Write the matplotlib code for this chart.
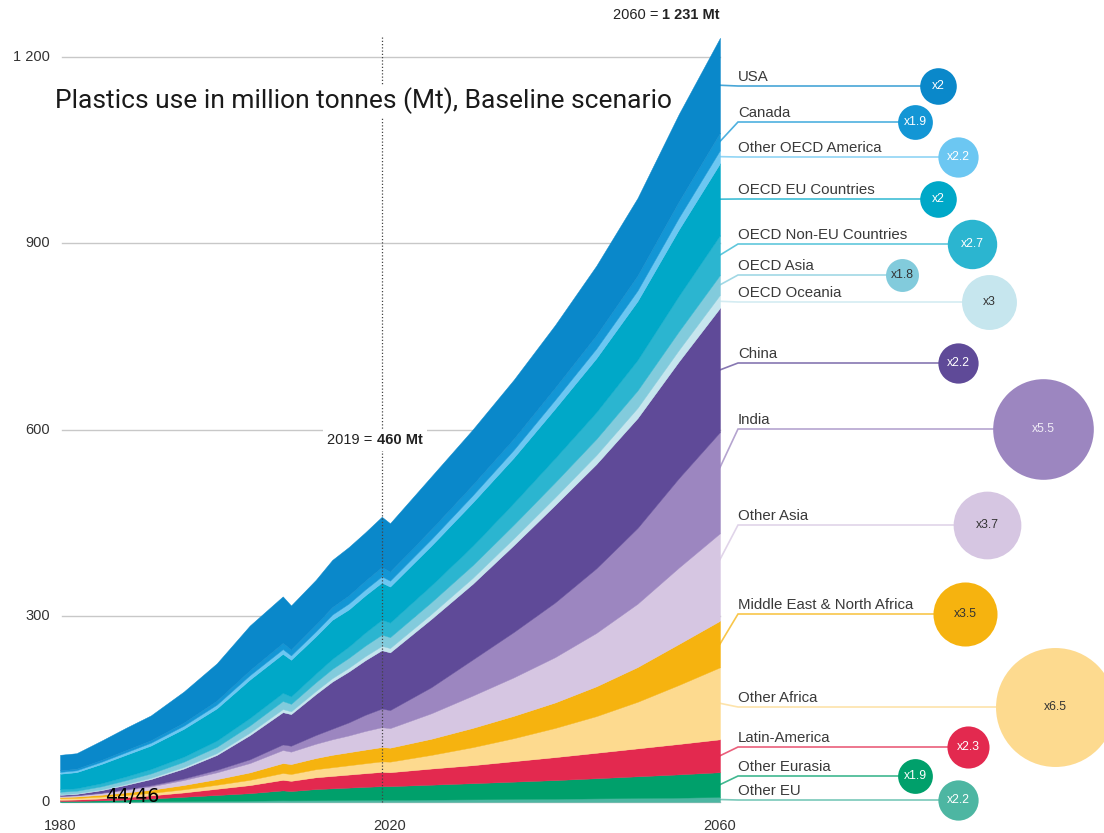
import matplotlib
matplotlib.use('Agg')
import matplotlib.pyplot as plt
import numpy as np

plt.rcParams['font.family'] = ['Liberation Sans', 'DejaVu Sans']

# ---- data (Mt) ----
years = [1980, 1982, 1985, 1988, 1991, 1995, 1999, 2003, 2007, 2008, 2011, 2013,
         2015, 2017, 2019, 2020, 2025, 2030, 2035, 2040, 2045, 2050, 2055, 2060]

usa = [25, 25, 31, 36, 40, 50, 60, 72, 75, 71, 72, 76, 78, 78, 81, 78, 85, 89, 95, 101, 112, 125, 141, 153]
canada = [2.5, 2.5, 3, 3.5, 4, 5, 6.5, 8, 10, 9.5, 11, 12, 13, 14, 15, 14.5, 16, 17, 18, 19.5, 21.5, 24, 26, 28]
other_oecd_america = [3, 3, 3.5, 4, 4.5, 5, 6, 7, 7.5, 7, 8, 8.5, 9.5, 9.5, 10, 9.5, 10.5, 11.5, 12.5, 14, 15.5, 17, 19, 21]
oecd_eu = [25, 26, 31, 35, 38, 45, 52, 62, 63, 59, 60, 63, 60, 60, 60, 58, 64, 70, 73, 80, 87, 95, 107, 116]
oecd_non_eu = [4, 4, 5, 6, 7, 8, 10, 12, 13, 12, 14, 16, 18, 21, 24, 23.5, 27, 31, 35, 39, 43, 49, 57, 64]
oecd_asia = [4, 4, 5, 6, 7, 8.5, 10, 11.5, 13, 12, 14, 15, 16, 17, 18, 17.5, 19, 20.5, 22, 24, 26, 28, 30, 32]
oecd_oceania = [1, 1, 1.2, 1.5, 2, 2.5, 3, 4, 5, 4.5, 5, 5.5, 6, 6.5, 7, 7, 8, 9.5, 11, 12.5, 14.5, 16.5, 18.5, 21]
china = [1.5, 2, 4, 7, 10, 16, 24, 39, 52, 51, 66, 76, 82, 88, 94, 93, 110, 122, 140, 157, 168, 177, 188, 200]
india = [0.5, 0.6, 0.8, 1.2, 1.8, 2.5, 4, 6, 9, 9.5, 14, 17, 21, 26, 30, 29, 42, 58, 73, 88, 104, 122, 144, 163]
other_asia = [1.5, 1.7, 2.5, 4, 5.5, 8, 11, 15, 21, 20, 23, 25, 27, 30, 32, 31.5, 41, 52, 62, 73, 86, 102, 123, 141]
mena = [2, 2.3, 3, 4, 5, 7, 9, 12, 16, 16, 18, 20, 21, 22, 23, 22.5, 26, 31, 36, 41, 48, 56, 66, 75]
other_africa = [2.5, 2.5, 3, 3.5, 4, 5, 6.5, 8.5, 11, 11, 13, 14, 15, 16, 17, 17, 22, 29, 37, 47, 59, 75, 95, 116]
latin_america = [2, 2.2, 3, 4, 5, 7, 10, 13, 17, 16.5, 19, 20, 21, 22, 23, 22.5, 26, 29, 33, 37, 41, 45, 49, 53]
other_eurasia = [1, 1.3, 2, 3, 4.5, 7, 9.5, 12, 16, 15, 18, 19, 20, 21, 22, 22, 24, 26, 28, 30, 32.5, 35, 37.5, 40]
other_eu = [0.5, 0.5, 0.7, 0.9, 1.1, 1.4, 1.8, 2.2, 2.7, 2.6, 2.8, 3, 3.2, 3.4, 3.5, 3.5, 3.9, 4.3, 4.8, 5.3, 5.8, 6.4, 7, 8]

# top to bottom, as labelled on the right
names = ['USA', 'Canada', 'Other OECD America', 'OECD EU Countries', 'OECD Non-EU Countries',
         'OECD Asia', 'OECD Oceania', 'China', 'India', 'Other Asia',
         'Middle East & North Africa', 'Other Africa', 'Latin-America', 'Other Eurasia', 'Other EU']
series = [usa, canada, other_oecd_america, oecd_eu, oecd_non_eu, oecd_asia, oecd_oceania, china,
          india, other_asia, mena, other_africa, latin_america, other_eurasia, other_eu]
growth = [2, 1.9, 2.2, 2, 2.7, 1.8, 3, 2.2, 5.5, 3.7, 3.5, 6.5, 2.3, 1.9, 2.2]

yticks = [0, 300, 600, 900, 1200]
ytick_labels = ['0', '300', '600', '900', '1 200']
xticks = [1980, 2020, 2060]

# ---- styles / layout ----
colors = ['#0a88ca', '#1396d5', '#6cc7f2', '#00a8c8', '#2bb5d0', '#82cbdc', '#c6e6ee', '#5f4a98',
          '#9c86c0', '#d6c6e2', '#f6b30f', '#fdda8f', '#e3294f', '#00a06b', '#4db6a2']
text_colors = ['white', 'white', 'white', 'white', 'white', '#333333', '#333333', 'white',
               '#f0ecf6', '#333333', '#333333', '#333333', 'white', 'white', 'white']
label_ypx = [86, 122, 157, 199, 244, 275, 302, 363, 429, 525, 614, 707, 747, 776, 800]
circle_xpx = [938, 915, 958, 938, 972, 902, 989, 958, 1043, 987, 965, 1055, 968, 915, 958]
# where along its band (0 = bottom, 1 = top) each leader leaves the 2060 edge
leader_pos = [0.5, 0.5, 0.5, 0.5, 0.5, 0.5, 0.5, 0.5, 0.65, 0.7, 0.5, 0.5, 0.5, 0.5, 0.5]

W, H = 1104, 833
X0PX, X1PX = 60, 720      # 1980 .. 2060
Y0PX, Y1PX = 802, 57      # 0 .. 1200


def xd(px):
    return 1980 + (px - X0PX) * 80 / (X1PX - X0PX)


def yd(px):
    return (Y0PX - px) * 1200 / (Y0PX - Y1PX)


fig = plt.figure(figsize=(W / 100, H / 100), dpi=100)
ax = fig.add_axes([0, 0, 1, 1])
ax.set_xlim(xd(0), xd(W))
ax.set_ylim(yd(H), yd(0))
ax.axis('off')

# gridlines + y labels
for v, lab in zip(yticks, ytick_labels):
    ax.plot([xd(62), 2060], [v, v], color='#c8c8c8', lw=1, zorder=0)
    ax.text(xd(50), v, lab, ha='right', va='center', fontsize=10.5, color='#333333')
for yr in xticks:
    ax.text(yr, yd(826), str(yr), ha='center', va='center', fontsize=10.5, color='#333333')

# stacked areas, bottom up
x = np.array(years)
lower = np.zeros(len(years))
starts = {}
for i in reversed(range(len(series))):
    upper = lower + np.array(series[i])
    ax.fill_between(x, lower, upper, color=colors[i], lw=0.3, zorder=2)
    starts[i] = lower[-1] + leader_pos[i] * (upper[-1] - lower[-1])
    lower = upper

# 2019 marker
ax.plot([2019, 2019], [0, yd(35)], ls=(0, (1, 1.6)), color='#444444', lw=0.9, zorder=5)

box = dict(fc='white', ec='none', pad=3)
t1 = ax.text(xd(377), yd(440), '2019 = ', ha='right', va='center', fontsize=10.5,
             color='#222222', bbox=box, zorder=6)
ax.annotate('460 Mt', xy=(1, 0.5), xycoords=t1, ha='left', va='center', fontsize=10.5,
            fontweight='bold', color='#222222', bbox=box, zorder=6)
t3 = ax.text(2060, yd(15), '1 231 Mt', ha='right', va='center', fontsize=10.5,
             fontweight='bold', color='#222222', zorder=6)
ax.annotate('2060 = ', xy=(0, 0.5), xycoords=t3, ha='right', va='center', fontsize=10.5,
            color='#222222', zorder=6)

ax.text(xd(55), yd(101), 'Plastics use in million tonnes (Mt), Baseline scenario',
        family=['Roboto', 'DejaVu Sans'], fontsize=19, color='#1a1a1a', ha='left', va='center',
        bbox=dict(fc='white', ec='none', pad=2), zorder=6)

# right-hand labels, leaders and growth bubbles
for i, name in enumerate(names):
    ly = yd(label_ypx[i])
    cx = xd(circle_xpx[i])
    ax.plot([2060, xd(738), cx], [starts[i], ly, ly], color=colors[i], lw=1.2, alpha=0.75,
            zorder=3, solid_joinstyle='miter')
    ax.text(xd(738), yd(label_ypx[i] - 2), name, ha='left', va='bottom', fontsize=10.8,
            color='#3a3a3a', zorder=4)
    d_pt = 18.3 * growth[i] * 0.72
    ax.scatter([cx], [ly], s=d_pt ** 2, color=colors[i], lw=0, zorder=4)
    ax.text(cx, ly, 'x%g' % growth[i], ha='center', va='center', fontsize=8.8,
            color=text_colors[i], zorder=5)

# page number overlay seen on the slide
ax.text(xd(132), yd(797), '44/46', family='DejaVu Sans', fontsize=13.5, color='black',
        ha='center', va='center', zorder=7)

fig.savefig('out.png', dpi=100)
